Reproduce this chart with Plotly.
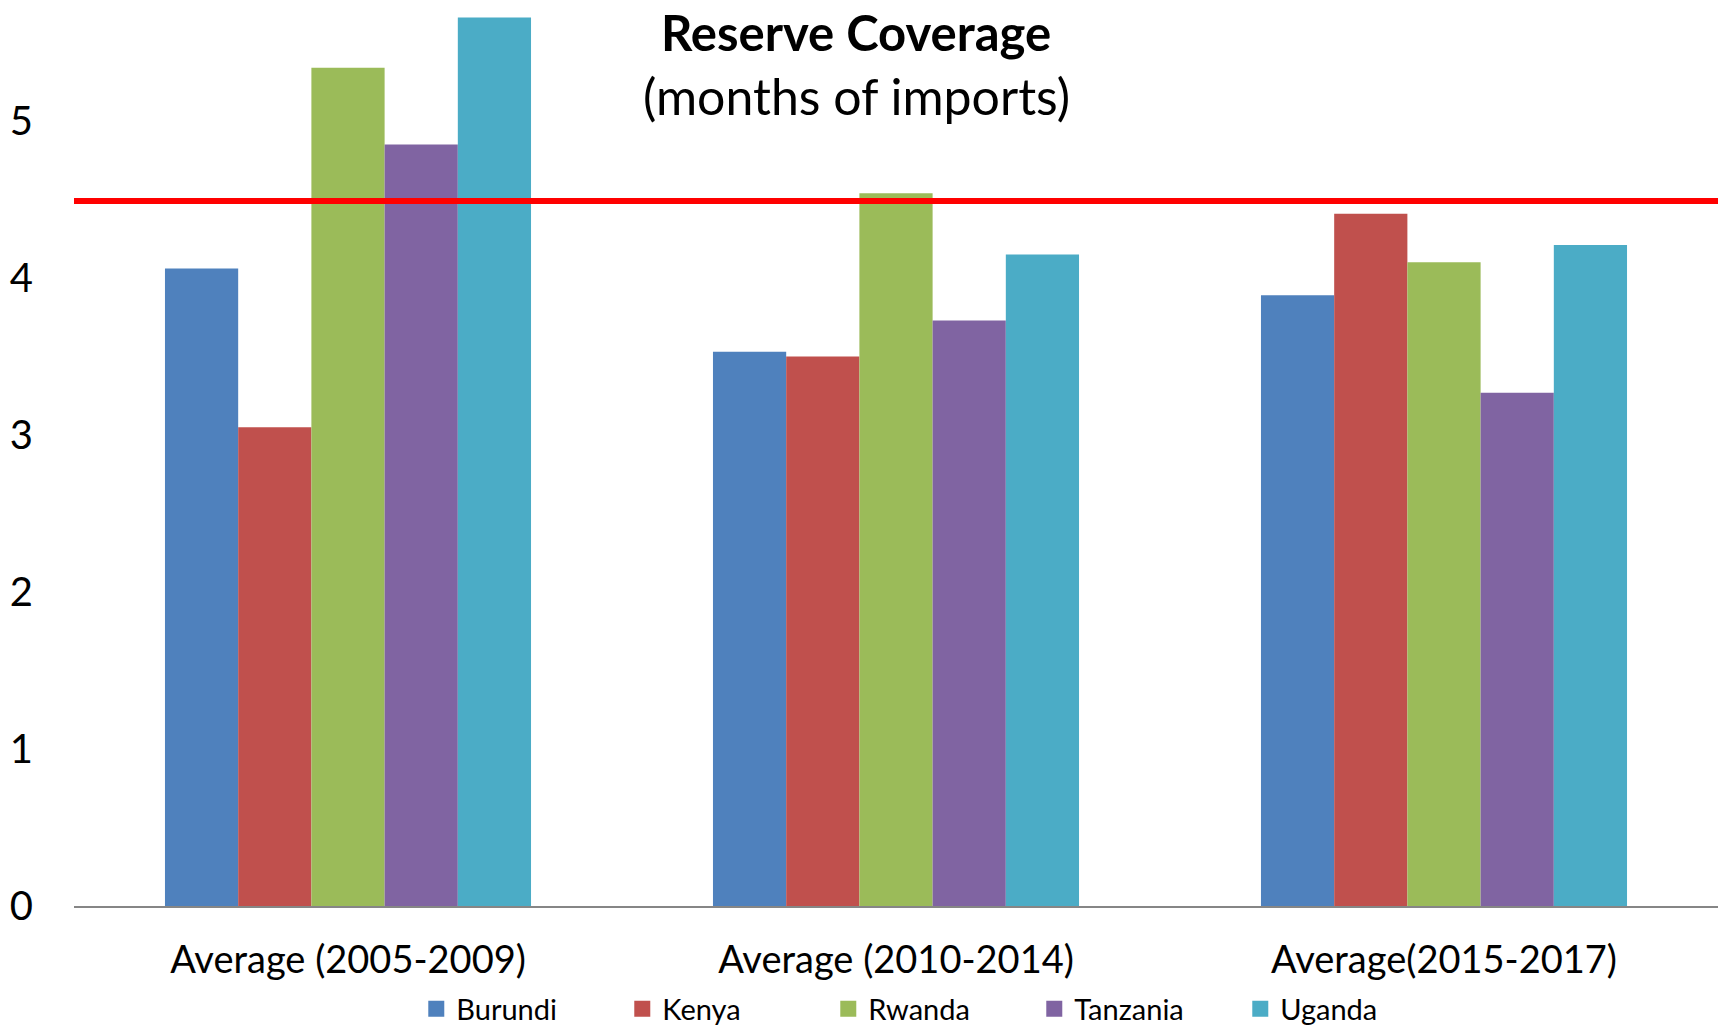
import plotly.graph_objects as go

categories = ["Average (2005-2009)", "Average (2010-2014)", "Average(2015-2017)"]
countries = ["Burundi", "Kenya", "Rwanda", "Tanzania", "Uganda"]
burundi = [4.06, 3.53, 3.89]
kenya = [3.05, 3.50, 4.41]
rwanda = [5.34, 4.54, 4.10]
tanzania = [4.85, 3.73, 3.27]
uganda = [5.66, 4.15, 4.21]
benchmark = 4.49
colors = ["#4F81BD", "#C0504D", "#9BBB59", "#8064A2", "#4BACC6"]
yticks = [0, 1, 2, 3, 4, 5]

series = [burundi, kenya, rwanda, tanzania, uganda]
FONT = "Lato"

fig = go.Figure()
for name, vals, col in zip(countries, series, colors):
    fig.add_trace(go.Bar(x=categories, y=vals, name=name, marker=dict(color=col, line=dict(width=0)),
                         showlegend=False))
for name, col in zip(countries, colors):
    fig.add_trace(go.Scatter(x=[None], y=[None], mode="markers", name=name,
                             marker=dict(symbol="square", size=18, color=col)))

fig.add_shape(type="line", xref="paper", yref="y", x0=0, x1=1, y0=benchmark, y1=benchmark,
              line=dict(color="#FF0000", width=6), layer="above")

fig.add_annotation(text="<b>Reserve Coverage</b>", xref="paper", yref="paper", x=0.4757, y=1,
                   yanchor="middle", yshift=-32, showarrow=False, font=dict(size=49, color="black", family=FONT))
fig.add_annotation(text="(months of imports)", xref="paper", yref="paper", x=0.4757, y=1,
                   yanchor="middle", yshift=-96, showarrow=False, font=dict(size=50, color="black", family=FONT))

fig.update_layout(
    width=1718, height=1028,
    margin=dict(l=74, r=0, t=0, b=122, autoexpand=False),
    plot_bgcolor="white", paper_bgcolor="white",
    barmode="group", bargap=0.332, bargroupgap=0,
    font=dict(family=FONT, color="black"),
    legend=dict(orientation="h", x=0.2082, y=-0.1137, xanchor="left", yanchor="middle",
                font=dict(size=29, family=FONT), entrywidth=161, entrywidthmode="pixels",
                bgcolor="rgba(0,0,0,0)"),
    xaxis=dict(showline=True, linecolor="#868686", linewidth=2, showgrid=False, ticks="",
               tickfont=dict(size=38, family=FONT), ticklabelstandoff=19, automargin=False),
    yaxis=dict(range=[0, 5.771], tickvals=yticks, showgrid=False, zeroline=False, showline=False,
               tickfont=dict(size=40, family=FONT), ticks="", ticklabelstandoff=40, automargin=False),
)

fig.write_html("out.html")
